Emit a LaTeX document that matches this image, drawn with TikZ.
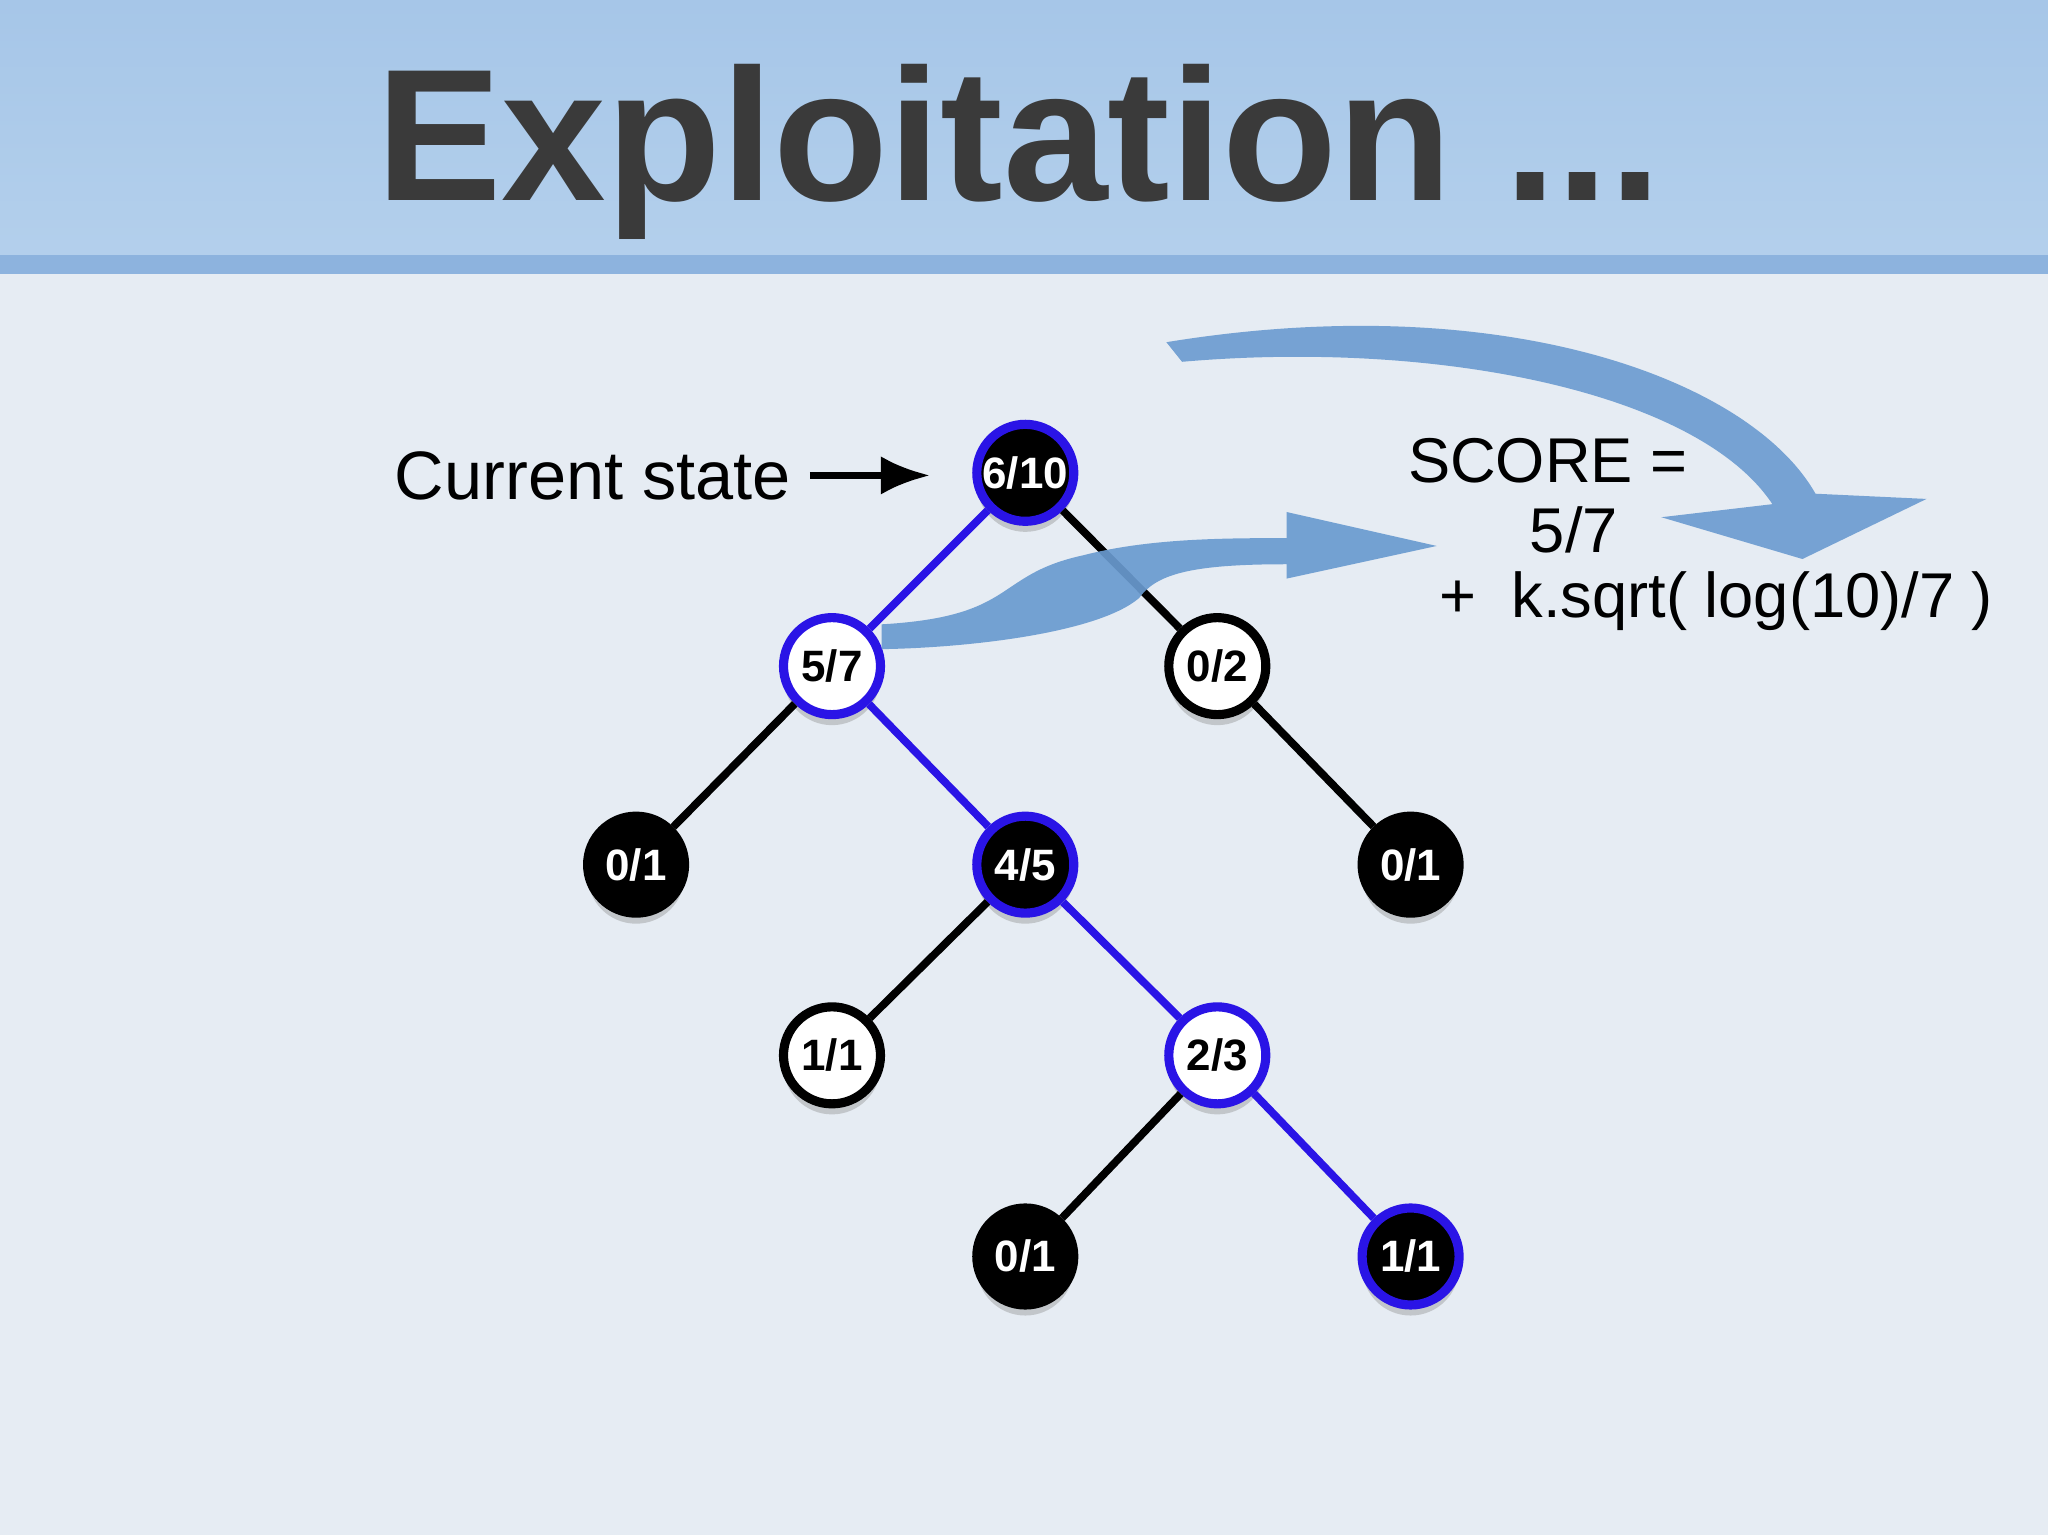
\documentclass[tikz,border=0pt]{standalone}
\usepackage{fontspec}
\setmainfont{Liberation Sans}
\usetikzlibrary{shadows,arrows.meta}
\definecolor{bg}{HTML}{E6ECF3}
\definecolor{band}{HTML}{B4D0EC}
\definecolor{bandtop}{HTML}{A6C6E8}
\definecolor{bandline}{HTML}{8DB3DE}
\definecolor{title}{HTML}{3A3A3A}
\definecolor{arr}{HTML}{6A9BD0}
\definecolor{bl}{HTML}{2A14E6}
\tikzset{
 tn/.style={circle,minimum size=0.97cm,inner sep=0pt,line width=2.6pt,font=\fontsize{12.5}{13}\selectfont\bfseries,drop shadow={opacity=0.35,shadow xshift=0pt,shadow yshift=-3pt}},
 bk/.style={tn,fill=black,draw=black,text=white},
 bkb/.style={tn,fill=black,draw=bl,text=white},
 wh/.style={tn,fill=white,draw=black,text=black},
 whb/.style={tn,fill=white,draw=bl,text=black},
 eb/.style={line width=2.2pt,draw=black},
 ebl/.style={line width=2.2pt,draw=bl},
 lbl/.style={font=\fontsize{18}{20}\selectfont}
}
\begin{document}
\begin{tikzpicture}[x=0.013061cm,y=-0.013061cm]
\useasboundingbox (0,0) rectangle (1568,1175);
\fill[bg] (0,0) rectangle (1568,1175);
\shade[top color=bandtop,bottom color=band] (0,0) rectangle (1568,205);
\fill[bandline] (0,195) rectangle (1568,210);
\node[font=\fontsize{53.5}{54}\selectfont\bfseries,text=title] (title) at (780,116) {Exploitation ...};
\fill[arr,opacity=0.9] (893,262) .. controls (1150,220) and (1340,290) .. (1390,378) -- (1475,382) -- (1380,428) -- (1272,396) -- (1357,386) .. controls (1300,300) and (1100,260) .. (905,277) -- cycle;
\node[bkb] (a) at (785,362) {6/10};
\node[whb] (b) at (637,510) {5/7};
\node[wh] (c) at (932,510) {0/2};
\node[bk] (d) at (487,662) {0/1};
\node[bkb] (e) at (785,662) {4/5};
\node[bk] (f) at (1080,662) {0/1};
\node[wh] (g) at (637,808) {1/1};
\node[whb] (h) at (932,808) {2/3};
\node[bk] (i) at (785,962) {0/1};
\node[bkb] (j) at (1080,962) {1/1};
\draw[ebl] (a) -- (b); \draw[eb] (a) -- (c);
\draw[eb] (b) -- (d); \draw[ebl] (b) -- (e);
\draw[eb] (c) -- (f); \draw[eb] (e) -- (g);
\draw[ebl] (e) -- (h); \draw[eb] (h) -- (i); \draw[ebl] (h) -- (j);
\fill[arr,opacity=0.92] (675,478) .. controls (780,472) and (760,440) .. (830,425) .. controls (880,412) and (940,412) .. (985,412) -- (985,392) -- (1100,418) -- (985,443) -- (985,432) .. controls (910,432) and (885,440) .. (872,458) .. controls (840,485) and (740,496) .. (675,497) -- cycle;
\node[font=\fontsize{19.5}{20}\selectfont] (cs) at (454,364) {Current state};
\coordinate (csend) at (712,364);
\draw[line width=2pt,-{Latex[length=14pt,width=11pt]}] (620,364) -- (csend);
\node[lbl] (s1) at (1185,353) {SCORE =};
\node[lbl] (s2) at (1205,406) {5/7};
\node[lbl] (s3) at (1314,460) {+\ \ k.sqrt( log(10)/7 )};
\end{tikzpicture}
\end{document}
